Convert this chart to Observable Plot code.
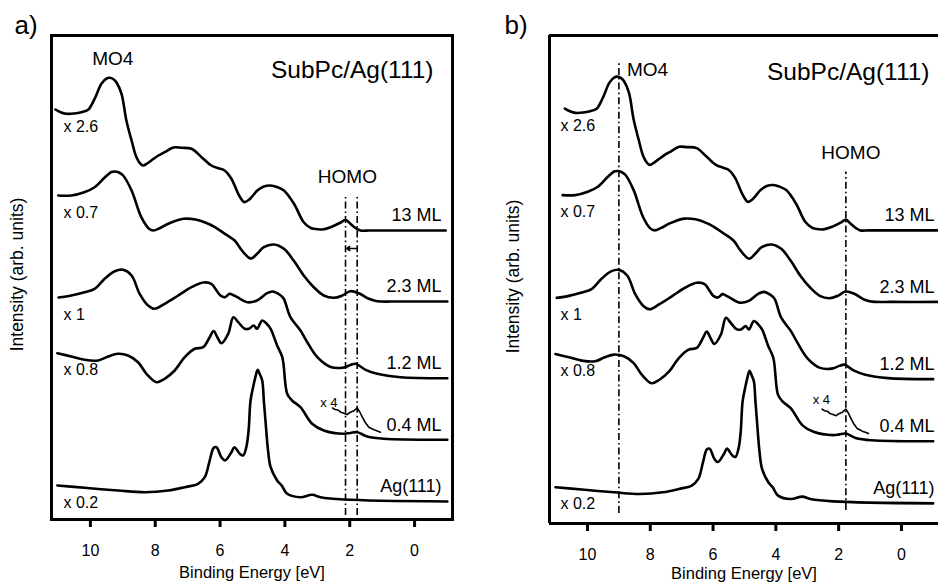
<!DOCTYPE html>
<html><head><meta charset="utf-8">
<script src="https://cdn.jsdelivr.net/npm/d3@7"></script>
<script src="https://cdn.jsdelivr.net/npm/@observablehq/plot@0.6"></script>
<style>
html,body{margin:0;padding:0;background:#fff;overflow:hidden}
#wrap{position:relative;width:938px;height:585px}
#wrap > svg{position:absolute;top:0}
</style></head><body><div id="wrap"></div>
<script>
// ---- data (binding energy [eV], intensity [arb. units]) ----
const series = ["13 ML", "2.3 ML", "1.2 ML", "0.4 ML", "Ag(111)"];
const factors = ["x 2.6", "x 0.7", "x 1", "x 0.8", "x 0.2"];
const shiftsB = [0.36, 0.2, 0, 0, 0];          // energy alignment used in panel b
const energyTicks = [10, 8, 6, 4, 2, 0];

const spec13 = [[11.08,410],[10.9,407],[10.74,405.7],[10.5,406],[10.28,407.3],[10.07,409.7],[9.87,420.7],[9.66,435.7],[9.5,441],[9.4,441.7],[9.3,440.5],[9.2,437.3],[9.04,425.7],[8.89,399],[8.73,379],[8.58,362.3],[8.45,355.5],[8.37,354],[8.25,356],[8.12,359],[7.9,364],[7.71,367.3],[7.44,372],[7.19,371.7],[6.88,370.7],[6.57,362.3],[6.27,354],[6.02,351],[5.86,349],[5.65,340.7],[5.44,325.7],[5.3,318.5],[5.24,317.3],[5.12,319.5],[5.03,322.3],[4.85,329],[4.65,333],[4.44,334],[4.25,332.5],[4.03,329],[3.72,315.7],[3.42,297.3],[3.2,291.5],[3.11,290.7],[2.85,290],[2.59,292.3],[2.28,297],[2.13,299.7],[1.98,295.7],[1.82,291.5],[1.67,289],[1.4,289],[1.05,289],[-0.96,289]];
const spec23 = [[10.99,324],[10.59,324],[10.19,327.3],[9.87,332.3],[9.56,342],[9.35,347.5],[9.25,348],[9.12,347],[8.99,344],[8.73,329],[8.43,302.3],[8.2,291],[8.06,289],[7.85,291.5],[7.6,295.7],[7.12,300.7],[6.76,300],[6.42,296.5],[6.16,292.3],[5.85,285.7],[5.55,279],[5.35,270],[5.24,265.7],[5.1,261.5],[5.03,261],[4.85,266],[4.65,272.3],[4.34,275],[4.03,270.7],[3.73,259],[3.42,244],[3.11,232.3],[2.8,224],[2.49,221.7],[2.23,224],[1.98,228.3],[1.72,226.3],[1.41,220.7],[1.15,218.3],[0.5,218],[-1.01,218]];
const spec12 = [[10.98,222],[10.59,224],[10.18,227.3],[9.87,230.7],[9.56,240.7],[9.25,248.3],[8.99,249.7],[8.73,244],[8.48,225.7],[8.22,214],[8.02,210.7],[7.71,215.7],[7.29,224],[6.88,232.3],[6.52,237],[6.27,235.7],[6.11,229],[5.99,224],[5.85,222.3],[5.7,225.7],[5.6,224.5],[5.47,222.3],[5.16,217.3],[4.86,219],[4.55,226.3],[4.38,228],[4.17,225],[4.04,221],[3.83,202.3],[3.52,189],[3.31,177.3],[3.0,162.3],[2.59,152.5],[2.18,152],[1.98,154.5],[1.82,155.7],[1.67,153],[1.51,149.7],[1.15,145.7],[0.43,142.3],[-1.01,141.3]];
const spec04 = [[11.02,166.3],[10.59,163],[10.18,159.7],[9.76,159],[9.45,163],[9.15,165.7],[8.84,164],[8.53,157.3],[8.27,145.7],[7.96,137.3],[7.71,140.7],[7.4,149],[7.09,162.3],[6.78,170.7],[6.52,172.3],[6.32,182.3],[6.2,188.5],[6.08,182],[5.96,176.3],[5.75,185.7],[5.59,202.3],[5.44,197.3],[5.24,190.7],[5.11,190.7],[4.96,194],[4.86,190.7],[4.7,199],[4.57,196],[4.44,190.7],[4.24,174],[4.08,162.3],[3.93,125.7],[3.78,119],[3.52,112.3],[3.16,95.7],[2.8,89],[2.18,85.7],[1.98,86.5],[1.77,87.3],[1.46,83],[0.95,80.7],[-1.01,79.7]];
const specAg = [[11.02,34],[10.18,31.7],[9.15,29],[8.32,27.3],[7.6,29],[7.09,32.3],[6.68,35.7],[6.47,42.3],[6.32,59],[6.2,71.5],[6.11,72.3],[5.96,62.3],[5.85,59],[5.65,67.3],[5.56,72.3],[5.39,65.7],[5.29,64],[5.19,72.3],[5.12,89],[5.06,119],[4.97,134],[4.91,142.3],[4.84,149.7],[4.77,145],[4.7,139],[4.65,119],[4.6,99],[4.52,69],[4.44,52.3],[4.24,39],[4.1,34],[3.93,25.7],[3.52,22.3],[3.16,24.7],[2.9,22.3],[2.18,20],[-1.01,18]];
const inset04 = [[2.53,111.5],[2.45,110],[2.36,109.5],[2.28,107.3],[2.2,106.5],[2.08,105],[1.98,107.3],[1.88,108.5],[1.77,111.7],[1.69,107.5],[1.61,102.3],[1.52,97],[1.41,92.3],[1.33,91],[1.25,89.7],[1.15,88.5],[1.05,87.3]];
const insetFactor = "x 4";

const homoLinesA = [2.13, 1.77];        // dash-dot markers in panel a
const homoExtentA = [4, 322];
const homoShiftArrow = {from: 1.77, to: 2.09, y: 271};
const mo4LineB = 9.0, mo4ExtentB = [8, 456];
const homoLineB = 1.77, homoExtentB = [11, 347];

const spectra = [spec13, spec23, spec12, spec04, specAg];

// ---- helpers ----
const FONT = "'Liberation Sans', Arial, Helvetica, sans-serif";
const dashDot = "7,3,1.6,3";

function rows(shifts) {
  return spectra.flatMap((sp, i) => sp.map(([E, I]) => ({s: series[i], E: E - shifts[i], I})));
}
function firsts(shifts) {
  return spectra.map((sp, i) => ({label: factors[i], E: sp[0][0] - shifts[i], I: sp[0][1]}));
}
function lasts(shifts) {
  return spectra.map((sp, i) => ({label: series[i], E: sp[sp.length - 1][0] - shifts[i], I: sp[sp.length - 1][1]}));
}

function basePanel(o) {
  const data = rows(o.shifts);
  const peak13 = d3.greatest(spec13, d => d[1]);
  const marks = [
    Plot.line(data, {x: "E", y: "I", z: "s", curve: "catmull-rom", stroke: "#000", strokeWidth: 2.6, strokeLinejoin: "round"}),
    Plot.line(inset04, {x: d => d[0], y: d => d[1], stroke: "#000", strokeWidth: 1.6}),
    Plot.text([insetFactor], {x: inset04[0][0], y: inset04[0][1], textAnchor: "end", lineAnchor: "middle", dx: o.insetDx, dy: o.insetDy, fontSize: 13}),
    Plot.text(lasts(o.shifts), {y: "I", text: "label", frameAnchor: "right", textAnchor: "end", lineAnchor: "middle", dx: o.endDx, dy: -15, fontSize: 18}),
    Plot.text(firsts(o.shifts), {y: "I", text: "label", frameAnchor: "left", textAnchor: "start", lineAnchor: "middle", dx: o.startDx, dy: 17, fontSize: 16}),
    Plot.text(["SubPc/Ag(111)"], {frameAnchor: "top-right", textAnchor: "end", lineAnchor: "middle", dx: o.titleDx, dy: o.titleDy, fontSize: 24.5}),
    Plot.axisX({ticks: energyTicks, tickSize: 8, strokeWidth: 3, tickPadding: 17, fontSize: 16, label: null, tickFormat: d => String(d)}),
    Plot.text(["Binding Energy [eV]"], {frameAnchor: "bottom", textAnchor: "middle", lineAnchor: "middle", dy: o.xLabelDy, fontSize: 16.5}),
    Plot.text(["Intensity (arb. units)"], {frameAnchor: "left", textAnchor: "middle", lineAnchor: "middle", rotate: -90, dx: o.yLabelDx, dy: -3, fontSize: 17.5}),
    Plot.text([o.tag], {frameAnchor: "top-left", textAnchor: "start", lineAnchor: "bottom", dx: o.tagDx, dy: -2, fontSize: 26})
  ];
  return {marks, peak13};
}

// ---- panel a ----
const {marks: marksA, peak13} = basePanel({shifts: [0,0,0,0,0], insetDx: 5, insetDy: -5, endDx: -11, startDx: 12,
  titleDx: -19, titleDy: 35, xLabelDy: 53, yLabelDx: -34, tag: "a)", tagDx: -37});
const xDomA = [11.2, -1.17], yDomA = [0, 484];
const plotA = Plot.plot({
  width: 469, height: 585,
  marginLeft: 51, marginRight: 17, marginTop: 35, marginBottom: 66,
  x: {domain: xDomA, axis: null},
  y: {domain: yDomA, axis: null},
  style: {fontFamily: FONT, color: "#000", background: "transparent", overflow: "visible"},
  marks: [
    Plot.frame({stroke: "#000", strokeWidth: 3}),
    Plot.ruleX(homoLinesA, {y1: homoExtentA[0], y2: homoExtentA[1], stroke: "#000", strokeWidth: 1.6, strokeDasharray: dashDot}),
    Plot.arrow([homoShiftArrow], {x1: "from", x2: "to", y1: "y", y2: "y", stroke: "#000", strokeWidth: 1.6, headLength: 7, headAngle: 70}),
    Plot.text(["HOMO"], {x: d3.mean(homoLinesA), y: homoExtentA[1], lineAnchor: "middle", dx: -4, dy: -21, fontSize: 19}),
    Plot.text(["MO4"], {x: peak13[0], y: peak13[1], lineAnchor: "middle", dx: 3, dy: -19, fontSize: 19}),
    ...marksA
  ]
});

// ---- panel b ----
const {marks: marksB} = basePanel({shifts: shiftsB, insetDx: 8, insetDy: -9, endDx: -4, startDx: 11,
  titleDx: -9, titleDy: 37, xLabelDy: 50, yLabelDx: -36, tag: "b)", tagDx: -45});
const xDomB = [11.21, -1.18], yDomB = [-2, 482.5];
const plotB = Plot.plot({
  width: 470, height: 585,
  marginLeft: 81, marginRight: 0, marginTop: 35, marginBottom: 62,
  x: {domain: xDomB, axis: null},
  y: {domain: yDomB, axis: null},
  style: {fontFamily: FONT, color: "#000", background: "transparent", overflow: "visible"},
  marks: [
    Plot.ruleX([xDomB[0]], {stroke: "#000", strokeWidth: 3}),
    Plot.ruleY(yDomB, {stroke: "#000", strokeWidth: 3}),
    Plot.ruleX([mo4LineB], {y1: mo4ExtentB[0], y2: mo4ExtentB[1], stroke: "#000", strokeWidth: 1.6, strokeDasharray: dashDot}),
    Plot.ruleX([homoLineB], {y1: homoExtentB[0], y2: homoExtentB[1], stroke: "#000", strokeWidth: 1.6, strokeDasharray: dashDot}),
    Plot.text(["MO4"], {x: mo4LineB, y: mo4ExtentB[1], textAnchor: "start", lineAnchor: "middle", dx: 8, dy: 8, fontSize: 19}),
    Plot.text(["HOMO"], {x: homoLineB, y: homoExtentB[1], lineAnchor: "middle", dx: 5, dy: -19, fontSize: 19}),
    ...marksB
  ]
});

plotA.style.left = "0px";
plotB.style.left = "468px";
document.getElementById("wrap").append(plotA, plotB);
</script>
</body></html>
